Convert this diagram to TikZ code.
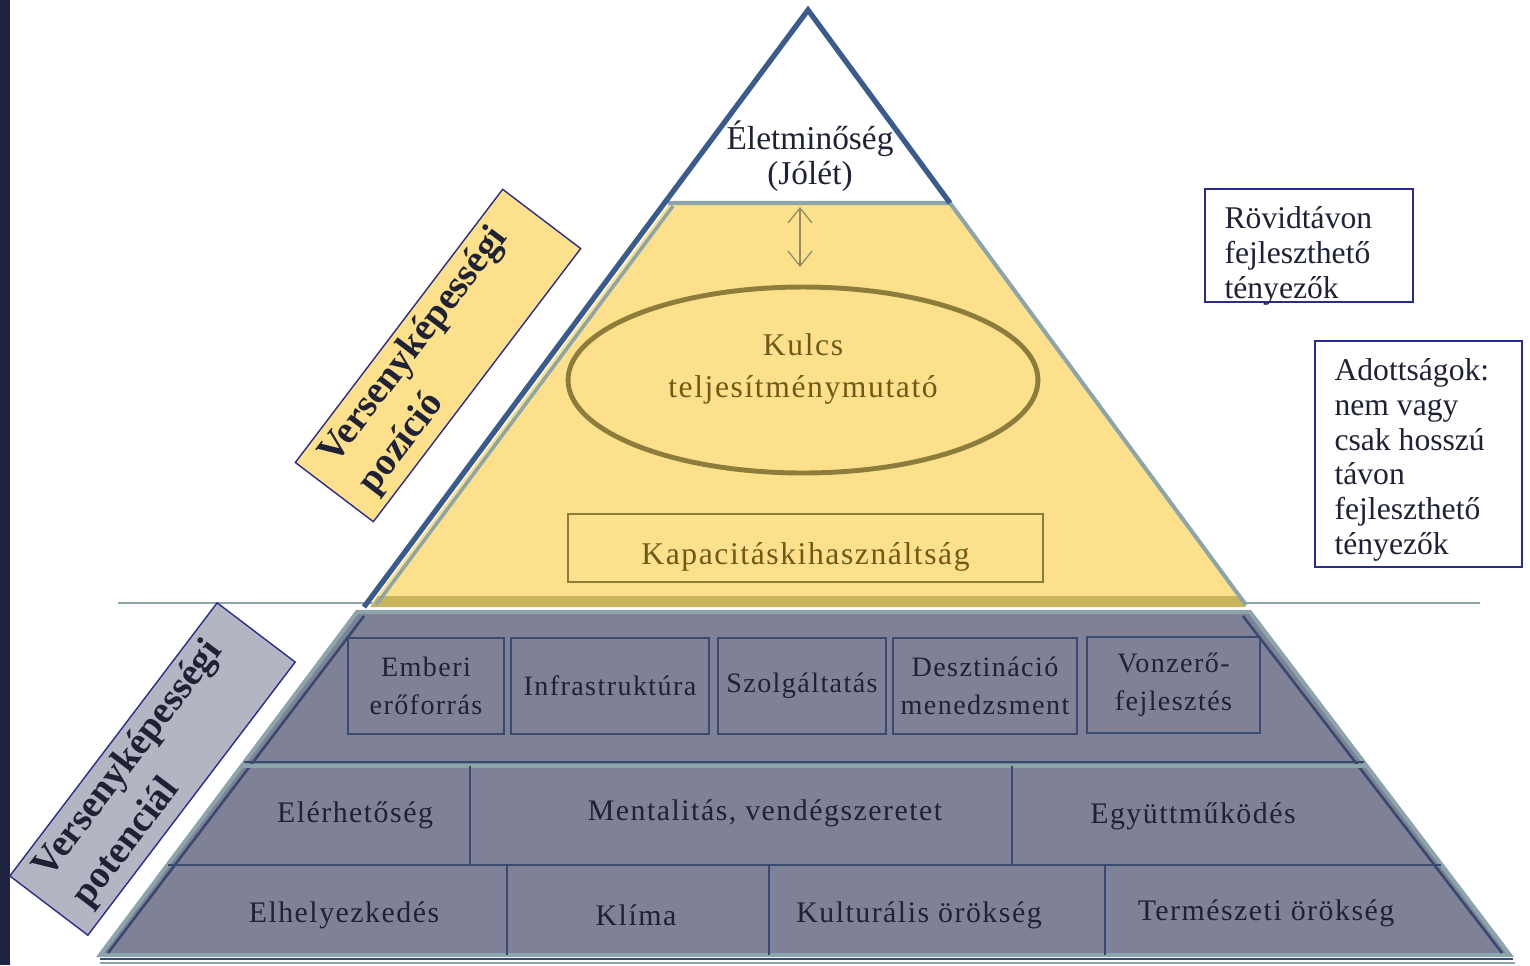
\documentclass[tikz,border=0pt]{standalone}
\usepackage{fontspec}
\setmainfont{Liberation Serif}
\newfontfamily\pyrfont{Liberation Serif}[LetterSpace=5]
\usetikzlibrary{arrows.meta,shapes.geometric,positioning}

\definecolor{navyline}{HTML}{3B5B8C}
\definecolor{tealline}{HTML}{8CA5AA}
\definecolor{yellowfill}{HTML}{FDE08B}
\definecolor{yellowband}{HTML}{C9B45C}
\definecolor{olivedraw}{HTML}{8C7D3C}
\definecolor{olivetext}{HTML}{6E5A18}
\definecolor{grayfill}{HTML}{7F8296}
\definecolor{boxnavy}{HTML}{394A70}
\definecolor{textdark}{HTML}{1F2236}
\definecolor{tagborder}{HTML}{2C2C8C}
\definecolor{taggray}{HTML}{B3B5C2}
\definecolor{sidebar}{HTML}{1F2342}
\definecolor{arrowgray}{HTML}{8F8B6A}

\begin{document}
\begin{tikzpicture}[x=0.02cm, y=-0.02cm,
    cell/.style={font=\pyrfont\fontsize{17}{20}\selectfont, text=textdark},
    factor/.style={draw=boxnavy, line width=1.6pt, minimum height=1.92cm, inner sep=0pt,
        align=center, font=\pyrfont\fontsize{16}{21.5}\selectfont, text=textdark},
    tag/.style={draw=tagborder, line width=0.8pt, rotate=52.8, minimum width=6.86cm,
        minimum height=1.96cm, text width=6cm, align=left, inner sep=0pt,
        font=\bfseries\fontsize{22}{28}\selectfont, text=textdark},
    notebox/.style={draw=tagborder, line width=0.9pt},
    notetext/.style={anchor=north west, inner sep=0pt, align=left,
        font=\fontsize{18}{19.8}\selectfont, text=textdark}
]
\useasboundingbox (0,0) rectangle (1530,965);

% left bar and level line
\fill[sidebar] (0,0) rectangle (10,965);
\draw[tealline, line width=1.2pt] (118,603) -- (1480,603);

% upper part of the pyramid
\fill[yellowfill] (670,203) -- (949,203) -- (1244,603) -- (372,603) -- cycle;
\fill[yellowband] (378,596) -- (1238,596) -- (1246,607) -- (370,607) -- cycle;
\draw[tealline, line width=2.3pt] (668,203) -- (950,203) -- (1246,605);
\draw[tealline, line width=2pt] (673,206) -- (376,605);
\draw[navyline, line width=3pt, line join=miter] (364,607) -- (808,10) -- (950,203);

% lower part of the pyramid
\draw[tealline, line width=2.3pt, fill=grayfill] (357,612) -- (1250,612) -- (1510,955) -- (100,955) -- cycle;
\draw[boxnavy, line width=1.5pt] (364,616) -- (108,953);
\draw[boxnavy, line width=1.5pt] (1243,616) -- (1502,953);
\draw[tealline, line width=2.3pt] (242,766) -- (1366,766);
\draw[boxnavy, line width=1pt] (244,762) -- (1364,762);
\draw[boxnavy, line width=0.8pt] (168,865) -- (1441,865);
\draw[boxnavy, line width=0.8pt] (470,766) -- (470,865);
\draw[boxnavy, line width=0.8pt] (1012,766) -- (1012,865);
\draw[boxnavy, line width=0.8pt] (507,865) -- (507,955);
\draw[boxnavy, line width=0.8pt] (769,865) -- (769,955);
\draw[boxnavy, line width=0.8pt] (1105,865) -- (1105,955);
\draw[boxnavy, line width=1.5pt] (100,959) -- (1513,959);
\draw[tealline, line width=1.5pt] (100,963) -- (1515,963);

% top
\node[align=center, font=\fontsize{19}{19.8}\selectfont, text=textdark] (life) at (810,156) {Életminőség\\(Jólét)};
\coordinate (arrtop) at (800,207);
\coordinate (arrbot) at (800,267);
\draw[arrowgray, line width=0.7pt, {Straight Barb[length=0.3cm, width=0.48cm]}-{Straight Barb[length=0.3cm, width=0.48cm]}] (arrtop) -- (arrbot);

% performance
\node[ellipse, draw=olivedraw, line width=2.8pt, minimum width=9.4cm, minimum height=3.72cm,
    align=center, text depth=0.58cm, font=\pyrfont\fontsize{18}{24.4}\selectfont, text=olivetext]
    (kpi) at (803,380) {Kulcs\\teljesítménymutató};
\node[draw=olivedraw, line width=1.6pt, minimum width=9.5cm, minimum height=1.36cm,
    text height=0.78cm, text depth=0.14cm,
    font=\pyrfont\fontsize{18}{20}\selectfont, text=olivetext] (capacity) at (805.5,548) {Kapacitáskihasználtság};

% developable factors
\node[factor, minimum width=3.12cm] (human) at (426,686) {Emberi\\erőforrás};
\node[factor, minimum width=3.96cm] (infra) at (610,686) {Infrastruktúra};
\node[factor, minimum width=3.36cm] (service) at (802,686) {Szolgáltatás};
\node[factor, minimum width=3.68cm] (destmgmt) at (985,686) {Desztináció\\menedzsment};
\node[factor, minimum width=3.46cm] (attract) at (1173.5,685) {Vonzerő-\\fejlesztés};

% endowments
\node[cell] (access) at (355,815) {Elérhetőség};
\node[cell] (mentality) at (765,813) {Mentalitás, vendégszeretet};
\node[cell] (coop) at (1193,816) {Együttműködés};
\node[cell] (location) at (344,915) {Elhelyezkedés};
\node[cell] (climate) at (636,915) {Klíma};
\node[cell] (culture) at (919,915) {Kulturális örökség};
\node[cell] (nature) at (1266,913) {Természeti örökség};

% side labels
\node[tag, fill=yellowfill] (position) at (438,355.5) {Versenyképességi\\pozíció};
\node[tag, fill=taggray] (potential) at (152.5,769) {Versenyképességi\\potenciál};

\node[notebox, minimum width=4.16cm, minimum height=2.26cm] (shortbox) at (1309,245.5) {};
\node[notetext] (shorttext) at ([xshift=0.4cm, yshift=-0.36cm]shortbox.north west) {Rövidtávon\\fejleszthető\\tényezők};
\node[notebox, minimum width=4.14cm, minimum height=4.52cm] (givenbox) at (1418.5,454) {};
\node[notetext] (giventext) at ([xshift=0.4cm, yshift=-0.36cm]givenbox.north west) {Adottságok:\\nem vagy\\csak hosszú\\távon\\fejleszthető\\tényezők};
\end{tikzpicture}
\end{document}
